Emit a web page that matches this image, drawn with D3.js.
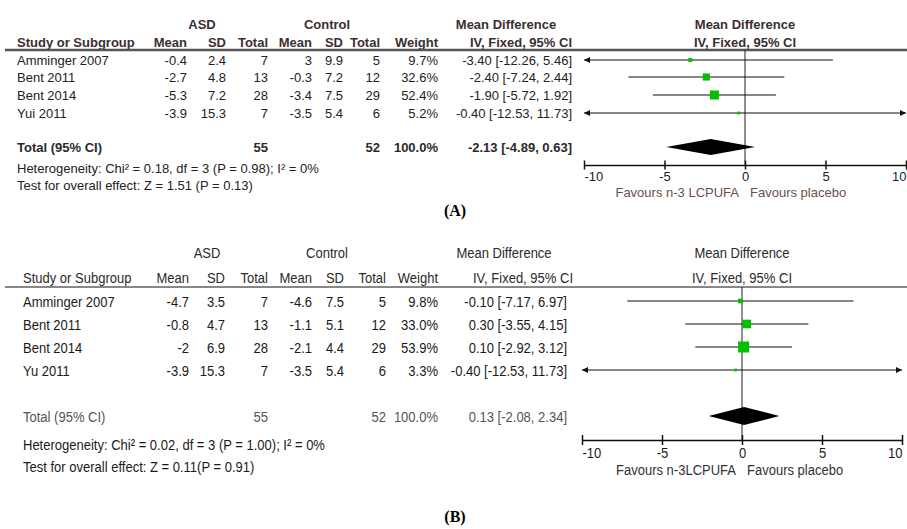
<!DOCTYPE html>
<html>
<head>
<meta charset="utf-8">
<script src="https://cdn.jsdelivr.net/npm/d3@7"></script>
<style>
  body { margin: 0; background: #fff; }
  svg { display: block; }
</style>
</head>
<body>
<div id="chart"></div>
<script>
// ---- data: panel A ----
const studiesA = ["Amminger 2007", "Bent 2011", "Bent 2014", "Yui 2011"];
const asdMeanA = ["-0.4", "-2.7", "-5.3", "-3.9"];
const asdSdA = ["2.4", "4.8", "7.2", "15.3"];
const asdNA = [7, 13, 28, 7];
const ctlMeanA = ["3", "-0.3", "-3.4", "-3.5"];
const ctlSdA = ["9.9", "7.2", "7.5", "5.4"];
const ctlNA = [5, 12, 29, 6];
const weightA = [9.7, 32.6, 52.4, 5.2];
const mdA = [-3.40, -2.40, -1.90, -0.40];
const loA = [-12.26, -7.24, -5.72, -12.53];
const hiA = [5.46, 2.44, 1.92, 11.73];
const totalA = { asdN: 55, ctlN: 52, md: -2.13, lo: -4.89, hi: 0.63 };
const hetA = "Heterogeneity: Chi² = 0.18, df = 3 (P = 0.98); I² = 0%";
const testA = "Test for overall effect: Z = 1.51 (P = 0.13)";

// ---- data: panel B ----
const studiesB = ["Amminger 2007", "Bent 2011", "Bent 2014", "Yu 2011"];
const asdMeanB = ["-4.7", "-0.8", "-2", "-3.9"];
const asdSdB = ["3.5", "4.7", "6.9", "15.3"];
const asdNB = [7, 13, 28, 7];
const ctlMeanB = ["-4.6", "-1.1", "-2.1", "-3.5"];
const ctlSdB = ["7.5", "5.1", "4.4", "5.4"];
const ctlNB = [5, 12, 29, 6];
const weightB = [9.8, 33.0, 53.9, 3.3];
const mdB = [-0.10, 0.30, 0.10, -0.40];
const loB = [-7.17, -3.55, -2.92, -12.53];
const hiB = [6.97, 4.15, 3.12, 11.73];
const totalB = { asdN: 55, ctlN: 52, md: 0.13, lo: -2.08, hi: 2.34 };
const hetB = "Heterogeneity: Chi² = 0.02, df = 3 (P = 1.00); I² = 0%";
const testB = "Test for overall effect: Z = 0.11(P = 0.91)";

const axisTicks = [-10, -5, 0, 5, 10];
const favoursA = ["Favours n-3 LCPUFA", "Favours placebo"];
const favoursB = ["Favours n-3LCPUFA", "Favours placebo"];

const width = 907, height = 529;
const svg = d3.select("#chart").append("svg")
    .attr("width", width)
    .attr("height", height);

const ciText = (m, l, h) => `${m.toFixed(2)} [${l.toFixed(2)}, ${h.toFixed(2)}]`;

function drawPanel(cfg) {
    const g = svg.append("g")
        .attr("font-family", cfg.font)
        .attr("font-size", cfg.fontSize)
        .attr("fill", cfg.textColor);
    const x = d3.scaleLinear().domain([-10, 10]).range(cfg.plotRange);
    const size = d3.scaleSqrt().domain([0, 100]).range([0, cfg.maxBox]);
    const cols = cfg.cols;
    const sx = cfg.squeeze;

    // text helper: squeezed horizontally around its anchor point
    const txt = (xp, yp, s, anchor, opts = {}) => g.append("text")
        .attr("transform", `translate(${xp},${yp + cfg.baseline}) scale(${sx},1)`)
        .attr("text-anchor", anchor || "start")
        .attr("font-weight", opts.bold && cfg.boldText ? "bold" : null)
        .attr("fill", opts.color || null)
        .text(s);
    const head = { bold: true, color: cfg.headColor };

    // headers
    txt(cols.asdCenter, cfg.yHead1, "ASD", "middle", head);
    txt(cols.ctlCenter, cfg.yHead1, "Control", "middle", head);
    txt(cols.mdHeadCenter, cfg.yHead1, "Mean Difference", "middle", head);
    txt(x(0), cfg.yHead1, "Mean Difference", "middle", head);
    txt(cols.study, cfg.yHead2, "Study or Subgroup", "start", head);
    ["Mean", "SD", "Total", "Mean", "SD", "Total", "Weight", "IV, Fixed, 95% CI"].forEach((h, i) => {
        txt(cols.right[i], cfg.yHead2, h, "end", head);
    });
    txt(x(0), cfg.yHead2, "IV, Fixed, 95% CI", "middle", head);

    svg.append("line")
        .attr("x1", cfg.ruleX).attr("x2", width)
        .attr("y1", cfg.ruleY).attr("y2", cfg.ruleY)
        .attr("stroke", cfg.ruleColor).attr("stroke-width", cfg.ruleWidth);

    // study rows
    cfg.studies.forEach((s, i) => {
        const y = cfg.rowY[i];
        txt(cols.study, y, s);
        const vals = [cfg.asdMean[i], cfg.asdSd[i], cfg.asdN[i], cfg.ctlMean[i], cfg.ctlSd[i], cfg.ctlN[i],
            cfg.weight[i].toFixed(1) + "%"];
        vals.forEach((v, j) => txt(cols.right[j], y, v, "end"));
        txt(cols.mdRight, y, ciText(cfg.md[i], cfg.lo[i], cfg.hi[i]), "end");
    });

    // total row + footnotes
    const tot = { bold: true, color: cfg.totalColor };
    txt(cols.study, cfg.totalY, "Total (95% CI)", "start", tot);
    txt(cols.right[2], cfg.totalY, cfg.total.asdN, "end", tot);
    txt(cols.right[5], cfg.totalY, cfg.total.ctlN, "end", tot);
    txt(cols.right[6], cfg.totalY, "100.0%", "end", tot);
    txt(cols.mdRight, cfg.totalY, ciText(cfg.total.md, cfg.total.lo, cfg.total.hi), "end", tot);
    txt(cols.study, cfg.hetY, cfg.het);
    txt(cols.study, cfg.testY, cfg.test);

    // zero line
    svg.append("line")
        .attr("x1", x(0)).attr("x2", x(0))
        .attr("y1", cfg.ruleY).attr("y2", cfg.axisY)
        .attr("stroke", "#222").attr("stroke-width", 1);

    // CI lines, arrows and boxes
    const plot = svg.append("g");
    cfg.studies.forEach((s, i) => {
        const y = cfg.rowY[i];
        const lo = Math.max(cfg.lo[i], -10), hi = Math.min(cfg.hi[i], 10);
        plot.append("line")
            .attr("x1", x(lo)).attr("x2", x(hi))
            .attr("y1", y).attr("y2", y)
            .attr("stroke", "#111").attr("stroke-width", 1.2);
        if (cfg.lo[i] < -10) {
            plot.append("path").attr("d", `M${x(-10)},${y} l6,-3 l0,6 Z`).attr("fill", "#111");
        }
        if (cfg.hi[i] > 10) {
            plot.append("path").attr("d", `M${x(10)},${y} l-6,-3 l0,6 Z`).attr("fill", "#111");
        }
        const b = size(cfg.weight[i]);
        plot.append("rect")
            .attr("x", x(cfg.md[i]) - b / 2).attr("y", y - b / 2)
            .attr("width", b).attr("height", b)
            .attr("fill", "#00c000");
    });

    // pooled diamond
    const t = cfg.total;
    plot.append("path")
        .attr("d", `M${x(t.lo)},${cfg.totalY} L${x(t.md)},${cfg.totalY - cfg.diamondH} ` +
            `L${x(t.hi)},${cfg.totalY} L${x(t.md)},${cfg.totalY + cfg.diamondH} Z`)
        .attr("fill", "#000");

    // axis
    const axis = svg.append("g")
        .attr("transform", `translate(0,${cfg.axisY})`)
        .call(d3.axisBottom(x).tickValues(axisTicks).tickFormat(d => String(d))
            .tickSizeOuter(0).tickSizeInner(cfg.tickHalf).tickPadding(2));
    axis.select(".domain").attr("stroke", "#111").attr("stroke-width", 1.5);
    axis.selectAll(".tick line").attr("y1", -cfg.tickHalf).attr("y2", cfg.tickHalf)
        .attr("stroke", "#111").attr("stroke-width", 1.5);
    // end labels sit inside the axis, as RevMan draws them
    axis.selectAll(".tick text")
        .attr("font-family", cfg.font).attr("font-size", cfg.fontSize).attr("fill", cfg.textColor)
        .attr("text-anchor", (d, i) => i === 0 ? "start" : i === axisTicks.length - 1 ? "end" : "middle")
        .attr("transform", `scale(${sx},1)`);

    txt(x(0) - 6, cfg.favY, cfg.favours[0], "end", { color: cfg.favColor });
    txt(x(0) + 5, cfg.favY, cfg.favours[1], "start", { color: cfg.favColor });
}

drawPanel({
    font: "'Liberation Sans', Arial, sans-serif", fontSize: 13, baseline: 4.5, squeeze: 1,
    textColor: "#222", headColor: "#3a3030", totalColor: "#2a2a2a", favColor: "#6a5048",
    boldText: true, favours: favoursA,
    studies: studiesA, asdMean: asdMeanA, asdSd: asdSdA, asdN: asdNA,
    ctlMean: ctlMeanA, ctlSd: ctlSdA, ctlN: ctlNA, weight: weightA,
    md: mdA, lo: loA, hi: hiA, total: totalA, het: hetA, test: testA,
    cols: { study: 17, asdCenter: 202, ctlCenter: 327, mdHeadCenter: 506, mdRight: 572,
        right: [187, 226, 268, 312, 343, 380, 438, 572] },
    plotRange: [584, 906], maxBox: 12.5, diamondH: 8, tickHalf: 4.5,
    yHead1: 24, yHead2: 42, ruleY: 50, ruleX: 5, ruleColor: "#555", ruleWidth: 2.5,
    rowY: [60, 77, 95, 113], totalY: 147, hetY: 168, testY: 185, axisY: 165, favY: 192
});

drawPanel({
    font: "'Liberation Sans', Arial, sans-serif", fontSize: 15.5, baseline: 5.5, squeeze: 0.84,
    textColor: "#1a1a1a", headColor: "#2a2a2a", totalColor: "#555", favColor: "#333",
    boldText: false, favours: favoursB,
    studies: studiesB, asdMean: asdMeanB, asdSd: asdSdB, asdN: asdNB,
    ctlMean: ctlMeanB, ctlSd: ctlSdB, ctlN: ctlNB, weight: weightB,
    md: mdB, lo: loB, hi: hiB, total: totalB, het: hetB, test: testB,
    cols: { study: 23, asdCenter: 207, ctlCenter: 327, mdHeadCenter: 504, mdRight: 567,
        right: [189, 225, 268, 312, 344, 386, 438, 573] },
    plotRange: [582, 902], maxBox: 15, diamondH: 9, tickHalf: 5,
    yHead1: 252, yHead2: 277, ruleY: 287, ruleX: 5, ruleColor: "#111", ruleWidth: 1,
    rowY: [301, 324, 347, 370], totalY: 416, hetY: 444, testY: 466, axisY: 440, favY: 469
});

// panel labels
svg.append("text").attr("x", 455).attr("y", 216).attr("text-anchor", "middle")
    .attr("font-family", "'Liberation Serif', 'Times New Roman', serif").attr("font-size", 16)
    .attr("font-weight", "bold").text("(A)");
svg.append("text").attr("x", 455).attr("y", 522).attr("text-anchor", "middle")
    .attr("font-family", "'Liberation Serif', 'Times New Roman', serif").attr("font-size", 16)
    .attr("font-weight", "bold").text("(B)");
</script>
</body>
</html>
